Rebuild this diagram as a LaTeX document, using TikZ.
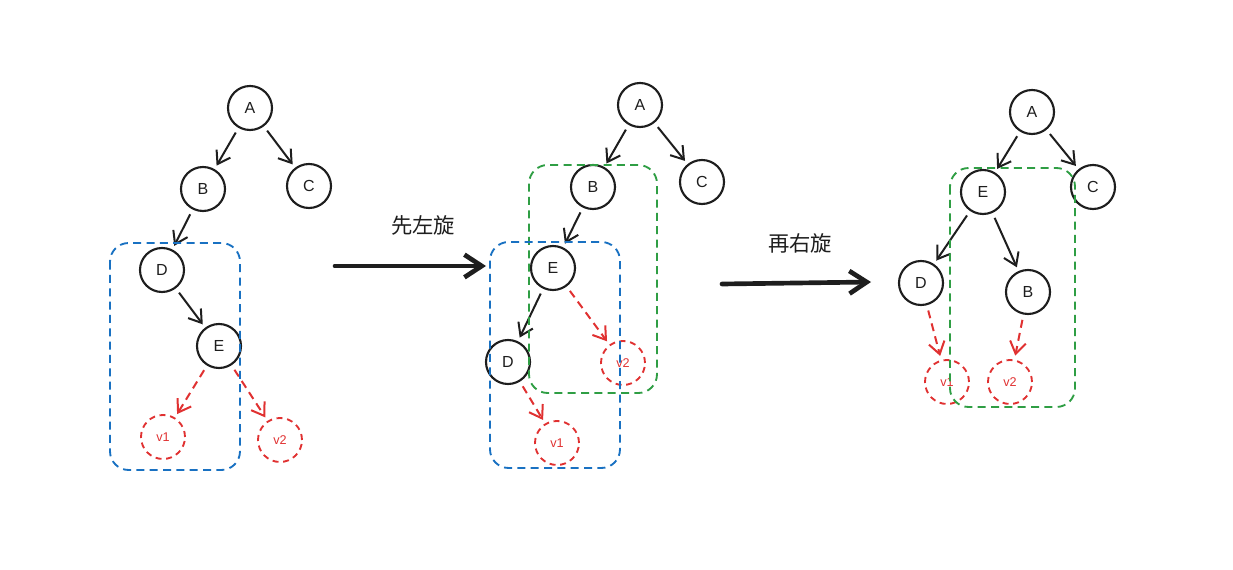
\documentclass[tikz,border=0pt]{standalone}
\usepackage{fontspec}
\setmainfont{Liberation Sans}
\newfontfamily\cjk{Noto Sans CJK SC}
\usetikzlibrary{arrows.meta}
\definecolor{ink}{HTML}{1E1E1E}
\definecolor{eblue}{HTML}{1971C2}
\definecolor{egreen}{HTML}{2F9E44}
\definecolor{ered}{HTML}{E03131}
\begin{document}
\begin{tikzpicture}[x=0.75pt,y=-0.75pt,
  vert/.style={circle,draw=ink,line width=1.6pt,minimum size=33pt,inner sep=0pt,text=ink,font=\fontsize{12}{14}\selectfont},
  leaf/.style={circle,draw=ered,dash pattern=on 4.5pt off 3.5pt,line width=1.4pt,minimum size=33pt,inner sep=0pt,text=ered,font=\fontsize{9.5}{11}\selectfont},
  edge/.style={draw=ink,line width=1.5pt,-{Straight Barb[length=9pt,width=12pt]},shorten <=4pt,shorten >=3pt},
  redge/.style={edge,draw=ered,dash pattern=on 6pt off 4pt},
  grp/.style={rounded corners=14pt,line width=1.4pt,dash pattern=on 6pt off 4pt},
  big/.style={draw=ink,line width=3.5pt,line cap=round,-{Straight Barb[length=13pt,width=17pt]}},
  lbl/.style={font=\cjk\fontsize{16}{18}\selectfont,text=ink}]
\useasboundingbox (0,0) rectangle (1233,570);
% ---------- panel 1 ----------
\node[vert] (a1) at (250,108) {A};
\node[vert] (b1) at (203,189) {B};
\node[vert] (c1) at (309,186) {C};
\node[vert] (d1) at (162,270) {D};
\node[vert] (e1) at (219,346) {E};
\node[leaf] (v11) at (163,437) {v1};
\node[leaf] (v21) at (280,440) {v2};
\draw[edge] (a1) -- (b1);
\draw[edge] (a1) -- (c1);
\draw[edge] (b1) -- (d1);
\draw[edge] (d1) -- (e1);
\draw[redge] (e1) -- (v11);
\draw[redge] (e1) -- (v21);
\draw[grp,draw=eblue] (110,243) rectangle (240,470);
% ---------- arrow 1 ----------
\coordinate (s1) at (335,266);
\coordinate (t1) at (486,266);
\draw[big] (s1) -- (t1);
\node[lbl] (l1) at (423,225) {先左旋};
% ---------- panel 2 ----------
\node[vert] (a2) at (640,105) {A};
\node[vert] (b2) at (593,187) {B};
\node[vert] (c2) at (702,182) {C};
\node[vert] (e2) at (553,268) {E};
\node[vert] (d2) at (508,362) {D};
\node[leaf] (v22) at (623,363) {v2};
\node[leaf] (v12) at (557,443) {v1};
\draw[edge] (a2) -- (b2);
\draw[edge] (a2) -- (c2);
\draw[edge] (b2) -- (e2);
\draw[edge] (e2) -- (d2);
\draw[redge] (e2) -- (v22);
\draw[redge] (d2) -- (v12);
\draw[grp,draw=egreen] (529,165) rectangle (657,393);
\draw[grp,draw=eblue] (490,242) rectangle (620,468);
% ---------- arrow 2 ----------
\coordinate (s2) at (722,284);
\coordinate (t2) at (871,282);
\draw[big] (s2) -- (t2);
\node[lbl] (l2) at (800,243) {再右旋};
% ---------- panel 3 ----------
\node[vert] (a3) at (1032,112) {A};
\node[vert] (e3) at (983,192) {E};
\node[vert] (c3) at (1093,187) {C};
\node[vert] (d3) at (921,283) {D};
\node[vert] (b3) at (1028,292) {B};
\node[leaf] (v13) at (947,382) {v1};
\node[leaf] (v23) at (1010,382) {v2};
\draw[edge] (a3) -- (e3);
\draw[edge] (a3) -- (c3);
\draw[edge] (e3) -- (d3);
\draw[edge] (e3) -- (b3);
\draw[redge] (d3) -- (v13);
\draw[redge] (b3) -- (v23);
\draw[grp,draw=egreen] (950,168) rectangle (1075,407);
\end{tikzpicture}
\end{document}
